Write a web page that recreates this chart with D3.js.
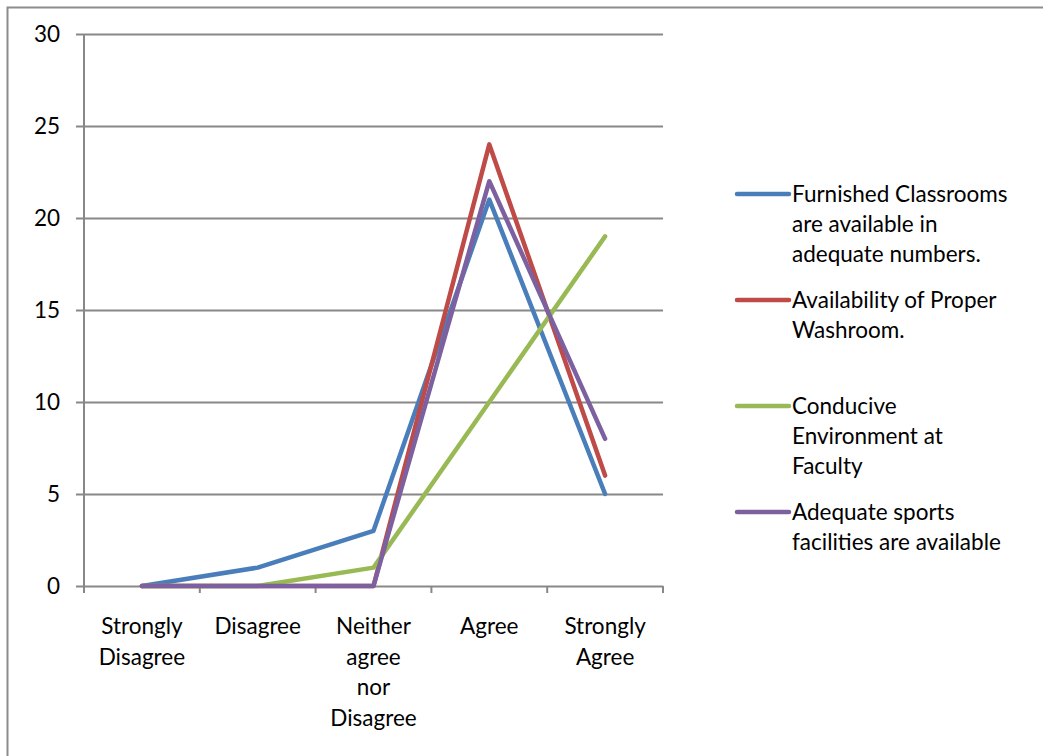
<!DOCTYPE html>
<html>
<head>
<meta charset="utf-8">
<script src="https://cdn.jsdelivr.net/npm/d3@7"></script>
<style>
  body { margin: 0; background: #fff; }
  svg text { font-family: Lato, "Open Sans", sans-serif; fill: #000; }
</style>
</head>
<body>
<div id="chart"></div>
<script>
// data
const categories = [
  ["Strongly", "Disagree"],
  ["Disagree"],
  ["Neither", "agree", "nor", "Disagree"],
  ["Agree"],
  ["Strongly", "Agree"]
]
const furnished = [0, 1, 3, 21, 5]
const washroom = [0, 0, 0, 24, 6]
const conducive = [0, 0, 1, 10, 19]
const sports = [0, 0, 0, 22, 8]
const yTicks = [0, 5, 10, 15, 20, 25, 30]

const seriesNames = [
  ["Furnished Classrooms", "are available in", "adequate numbers."],
  ["Availability of Proper", "Washroom."],
  ["Conducive", "Environment at", "Faculty"],
  ["Adequate sports", "facilities are available"]
]
const seriesValues = [furnished, washroom, conducive, sports]
const colors = ["#4a7ebb", "#be4b48", "#98b954", "#7d60a0"]

const width = 1043
const height = 756
const marginLeft = 84
const marginRight = 380      // plot ends at 663
const marginTop = 34
const marginBottom = 170     // zero line at 586
const fontSize = "22.5px"

const svg = d3.select("#chart")
  .append("svg")
  .attr("width", width)
  .attr("height", height)

// outer frame
svg.append("rect")
  .attr("x", 7.5).attr("y", 7.5)
  .attr("width", width).attr("height", height)
  .attr("fill", "none")
  .attr("stroke", "#8c8c8c")
  .attr("stroke-width", 2)

const idx = d3.range(categories.length)
const x = d3.scaleBand(idx, [marginLeft, width - marginRight])
const y = d3.scaleLinear([0, 30], [height - marginBottom, marginTop])

// y axis + gridlines
const yAxis = d3.axisLeft(y).tickValues(yTicks).tickSize(8).tickPadding(16)
svg.append("g")
  .attr("transform", `translate(${marginLeft},0)`)
  .call(yAxis)
  .call(g => g.select(".domain").remove())
  .call(g => g.selectAll(".tick line").attr("stroke", "#888").attr("stroke-width", 2))
  .call(g => g.selectAll(".tick line").clone()
    .attr("x2", width - marginLeft - marginRight))
  .call(g => g.selectAll(".tick text").style("font-size", fontSize))

svg.append("line")
  .attr("x1", marginLeft).attr("x2", marginLeft)
  .attr("y1", y(30)).attr("y2", y(0) + 7)
  .attr("stroke", "#888").attr("stroke-width", 2)

// x axis tick marks on band edges
const edges = idx.map(i => x(i)).concat([x(idx.length - 1) + x.bandwidth()])
svg.append("g")
  .selectAll("line")
  .data(edges)
  .join("line")
  .attr("x1", d => d).attr("x2", d => d)
  .attr("y1", y(0)).attr("y2", y(0) + 7)
  .attr("stroke", "#888").attr("stroke-width", 2)

// category labels
svg.append("g")
  .selectAll("text")
  .data(idx)
  .join("text")
  .attr("x", i => x(i) + x.bandwidth() / 2)
  .attr("y", y(0) + 48)
  .attr("text-anchor", "middle")
  .style("font-size", fontSize)
  .selectAll("tspan")
  .data(i => categories[i])
  .join("tspan")
  .attr("x", function() { return this.parentNode.getAttribute("x") })
  .attr("dy", (d, k) => k === 0 ? 0 : 30.5)
  .text(d => d)

// lines
const line = d3.line()
  .x((d, i) => x(i) + x.bandwidth() / 2)
  .y(d => y(d))

svg.append("g")
  .selectAll("path")
  .data(seriesValues)
  .join("path")
  .attr("d", line)
  .attr("fill", "none")
  .attr("stroke", (d, i) => colors[i])
  .attr("stroke-width", 4.5)
  .attr("stroke-linejoin", "round")
  .attr("stroke-linecap", "round")

// legend
const legendY = [194, 300, 406, 512]
const legend = svg.append("g")
  .selectAll("g")
  .data(seriesNames)
  .join("g")
  .attr("transform", (d, i) => `translate(737,${legendY[i]})`)

legend.append("line")
  .attr("x1", 0).attr("x2", 52)
  .attr("stroke", (d, i) => colors[i])
  .attr("stroke-width", 4.5)
  .attr("stroke-linecap", "round")

legend.append("text")
  .attr("x", 55)
  .attr("y", 8)
  .style("font-size", fontSize)
  .selectAll("tspan")
  .data(d => d)
  .join("tspan")
  .attr("x", 55)
  .attr("dy", (d, k) => k === 0 ? 0 : 30)
  .text(d => d)
</script>
</body>
</html>
